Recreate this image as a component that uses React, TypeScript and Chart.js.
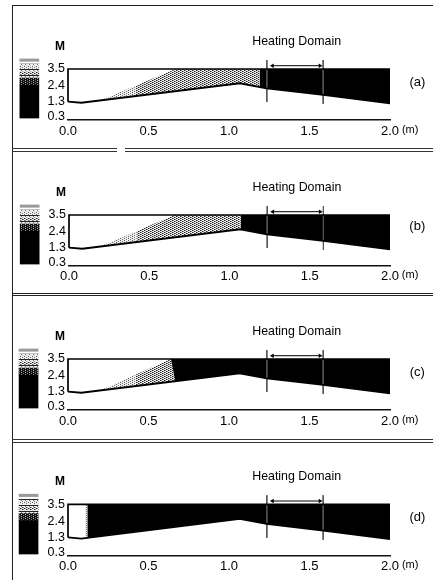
import React, { useEffect, useRef } from "react";
import { Chart, registerables } from "chart.js";

Chart.register(...registerables);

// Shared data
const xTicks = [0.0, 0.5, 1.0, 1.5, 2.0];
const yTicks = [0.3, 1.3, 2.4, 3.5];
const wallX = [0, 0.083, 1.067, 1.233, 1.585, 2.0];
const wallY = [1.32, 1.25, 2.55, 2.21, 1.77, 1.21];
const ceilingX = [0, 0, 2];
const ceilingY = [1.32, 3.5, 3.5];
const heatLeftX = [1.235, 1.235];
const heatLeftY = [4.1, 1.3];
const heatRightX = [1.585, 1.585];
const heatRightY = [4.1, 1.17];
const arrowX = [1.27, 1.565];
const arrowY = [3.72, 3.72];
const barLow = [3.97, 3.83, 3.7, 3.5, 3.3, 3.1, 2.9, 2.63, 2.43, 0.23];
const barHigh = [4.17, 3.97, 3.83, 3.7, 3.5, 3.3, 3.1, 2.9, 2.63, 2.43];
const barLevels = ["gray", "white", "stripe", "light", "stripe", "mid", "stripe", "dark", "dark", "black"];

// Per panel data
const panelNames = ["(a)", "(b)", "(c)", "(d)"];
const panelNameY = [2.63, 2.77, 2.59, 2.63];
const unitY = [-0.58, -0.5, -0.58, -0.52];

const blackX = [
  [1.19, 1.233, 1.585, 2.0],
  [1.07, 1.233, 1.585, 2.0],
  [0.64, 0.667, 1.067, 1.233, 1.585, 2.0],
  [0.12, 1.067, 1.233, 1.585, 2.0],
];
const blackLow = [
  [2.3, 2.21, 1.77, 1.21],
  [2.55, 2.21, 1.77, 1.21],
  [3.5, 2.02, 2.55, 2.21, 1.77, 1.21],
  [1.3, 2.55, 2.21, 1.77, 1.21],
];
const blackHigh = [
  [3.5, 3.5, 3.5, 3.5],
  [3.5, 3.5, 3.5, 3.5],
  [3.5, 3.5, 3.5, 3.5, 3.5, 3.5],
  [3.5, 3.5, 3.5, 3.5, 3.5],
];
const faintX = [[0.2, 0.42], [0.19, 0.42], [0.2, 0.42], [0.105, 0.12]];
const faintLow = [[1.4, 1.7], [1.39, 1.7], [1.4, 1.7], [1.29, 1.3]];
const faintHigh = [[1.4, 2.38], [1.39, 2.42], [1.4, 2.45], [3.5, 3.5]];
const shadeX = [
  [0.42, 0.67, 1.067, 1.19],
  [0.42, 0.66, 1.07],
  [0.42, 0.64, 0.667],
  [],
];
const shadeLow = [
  [1.7, 2.02, 2.55, 2.3],
  [1.7, 2.01, 2.55],
  [1.7, 1.99, 2.02],
  [],
];
const shadeHigh = [
  [2.38, 3.5, 3.5, 3.5],
  [2.42, 3.5, 3.5],
  [2.45, 3.5, 3.5],
  [],
];

// Layout of each panel on the page
const canvasTop = [6, 152, 296, 442];
const canvasBottom = [147, 293, 439, 580];
const plotTop = [69, 215, 359, 504];
const plotBottom = [120, 266, 410, 556];
const plotLeft = [68, 69, 68, 68];
const tickPad = [4, 2.5, 4, 3];
const barCenterX = [-0.24, -0.245, -0.245, -0.245];
const Y_MIN = 0.1;
const Y_MAX = 5.5;
const UNITS_TO_PX = 15;

function makePattern(kind: string): string | CanvasPattern {
  if (kind === "black") return "#000";
  if (kind === "white") return "#fff";
  if (kind === "gray") return "#999";
  const c = document.createElement("canvas");
  const ctx = c.getContext("2d")!;
  const px = (x: number, y: number, col: string) => {
    ctx.fillStyle = col;
    ctx.fillRect(x, y, 1, 1);
  };
  c.width = 4;
  c.height = kind === "stripe" ? 3 : 2;
  ctx.fillStyle = "#eeeeee";
  ctx.fillRect(0, 0, c.width, c.height);
  if (kind === "stripe") {
    ctx.fillStyle = "#222";
    ctx.fillRect(0, 0, 4, 1);
    px(1, 1, "#777");
  } else if (kind === "light") {
    px(0, 0, "#555");
    px(2, 1, "#777");
  } else if (kind === "mid") {
    px(0, 0, "#222");
    px(1, 0, "#888");
    px(2, 1, "#222");
    px(3, 1, "#888");
  } else {
    ctx.fillStyle = "#111";
    ctx.fillRect(0, 0, 4, 2);
    px(1, 0, "#bbb");
    px(3, 1, "#777");
  }
  return ctx.createPattern(c, "repeat")!;
}

const pts = (xs: number[], ys: number[]) => xs.map((x, i) => ({ x, y: ys[i] }));

function band(xs: number[], high: number[], low: number[], fillStyle: string | CanvasPattern) {
  return [
    { type: "line", data: pts(xs, high), borderWidth: 0, pointRadius: 0, backgroundColor: fillStyle, fill: "+1", tension: 0 },
    { type: "line", data: pts(xs, low), borderWidth: 0, pointRadius: 0, fill: false, tension: 0 },
  ];
}

function Panel({ index }: { index: number }) {
  const ref = useRef<HTMLCanvasElement>(null);
  useEffect(() => {
    const canvas = ref.current!;
    const topPad = plotTop[index] - (Y_MAX - 3.5) * UNITS_TO_PX - canvasTop[index];
    const notes = [
      { text: "Heating Domain", x: 1.42, y: 5.32, font: "12.4px 'Liberation Sans'" },
      { text: "M", x: -0.05, y: 4.97, font: "bold 12px 'Liberation Sans'" },
      { text: panelNames[index], x: 2.17, y: panelNameY[index], font: "13px 'Liberation Sans'" },
      { text: "(m)", x: 2.125, y: unitY[index], font: "11px 'Liberation Sans'" },
    ];
    const notesPlugin = {
      id: "notes",
      afterDraw(chart: any) {
        const { ctx, scales } = chart;
        ctx.save();
        ctx.fillStyle = "#000";
        ctx.textAlign = "center";
        ctx.textBaseline = "middle";
        for (const n of notes) {
          ctx.font = n.font;
          ctx.fillText(n.text, scales.x.getPixelForValue(n.x), scales.y.getPixelForValue(n.y));
        }
        ctx.restore();
      },
    };
    const line = (xs: number[], ys: number[], width: number, color = "#000") => ({
      type: "line",
      data: pts(xs, ys),
      borderColor: color,
      borderWidth: width,
      pointRadius: 0,
      fill: false,
      tension: 0,
      clip: false,
    });
    const datasets: any[] = [
      line(ceilingX, ceilingY, 1.7),
      line(wallX, wallY, 1.8),
      line(heatLeftX, heatLeftY, 1, "#555"),
      line(heatRightX, heatRightY, 1, "#555"),
      {
        ...line(arrowX, arrowY, 1),
        pointRadius: 2.6,
        pointStyle: "triangle",
        pointRotation: [-90, 90],
        pointBackgroundColor: "#000",
        pointBorderWidth: 0,
      },
      ...band(blackX[index], blackHigh[index], blackLow[index], "#000"),
      ...(shadeX[index].length ? band(shadeX[index], shadeHigh[index], shadeLow[index], makePattern("mid")) : []),
      ...band(faintX[index], faintHigh[index], faintLow[index], makePattern("light")),
      {
        type: "bar",
        data: barLow.map((lo, i) => ({ x: barCenterX[index], y: [lo, barHigh[i]] })),
        backgroundColor: barLevels.map(makePattern),
        barThickness: 19,
        borderWidth: 0,
        borderSkipped: false,
        clip: false,
      },
    ];
    const chart = new Chart(canvas, {
      type: "line",
      data: { datasets },
      plugins: [notesPlugin],
      options: {
        animation: false,
        responsive: false,
        layout: { padding: { left: 0, right: 433 - 390, top: topPad, bottom: 0 } },
        plugins: { legend: { display: false }, tooltip: { enabled: false }, title: { display: false } },
        scales: {
          x: {
            type: "linear",
            min: 0,
            max: 2,
            offset: false,
            afterBuildTicks: (s: any) => {
              s.ticks = xTicks.map((value) => ({ value }));
            },
            afterFit: (s: any) => {
              s.height = canvasBottom[index] - plotBottom[index];
            },
            grid: { display: false, drawTicks: false },
            border: { display: true, color: "#111", width: 1.5 },
            ticks: {
              autoSkip: false,
              maxRotation: 0,
              padding: tickPad[index],
              color: "#000",
              font: { family: "'Liberation Sans'", size: 13 },
              callback: (v: any) => Number(v).toFixed(1),
            },
          },
          y: {
            type: "linear",
            min: Y_MIN,
            max: Y_MAX,
            afterBuildTicks: (s: any) => {
              s.ticks = yTicks.map((value) => ({ value }));
            },
            afterFit: (s: any) => {
              s.width = plotLeft[index];
            },
            grid: { display: false, drawTicks: false },
            border: { display: false },
            ticks: {
              autoSkip: false,
              padding: 3,
              color: "#000",
              font: { family: "'Liberation Sans'", size: 12.5 },
              callback: (v: any) => Number(v).toFixed(1),
            },
          },
        },
      } as any,
    } as any);
    return () => chart.destroy();
  }, [index]);
  return (
    <canvas
      ref={ref}
      width={433}
      height={canvasBottom[index] - canvasTop[index]}
      style={{ position: "absolute", left: 0, top: canvasTop[index], display: "block" }}
    />
  );
}

const rule = (top: number, style: string): React.CSSProperties => ({
  position: "absolute",
  left: 12,
  right: 0,
  top,
  borderTop: style,
});

export default function App() {
  return (
    <div style={{ position: "fixed", left: 0, top: 0, width: 433, height: 580, overflow: "hidden", background: "#fff" }}>
      <div style={{ position: "absolute", left: 12, top: 5, bottom: 0, width: 0, borderLeft: "1.5px solid #222" }} />
      <div style={rule(5, "1.5px solid #222")} />
      <div style={rule(148, "4px double #333")} />
      <div style={{ position: "absolute", left: 117, top: 146, width: 8, height: 8, background: "#fff" }} />
      <div style={rule(293, "3px double #222")} />
      <div style={rule(439, "4px double #333")} />
      {[0, 1, 2, 3].map((i) => (
        <Panel key={i} index={i} />
      ))}
    </div>
  );
}
